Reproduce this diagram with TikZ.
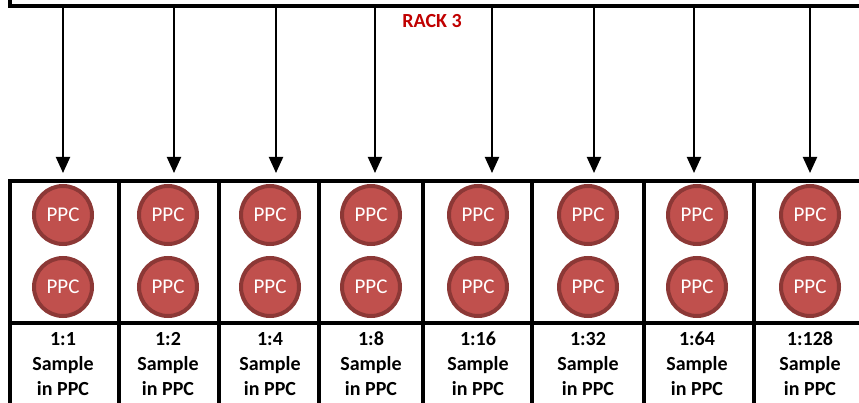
\documentclass[tikz,border=0pt]{standalone}
\usepackage{fontspec}
\setmainfont{Carlito}
\usetikzlibrary{arrows.meta,positioning}
\definecolor{ppcfill}{HTML}{C0504D}
\definecolor{ppcring}{HTML}{8C3836}
\definecolor{rackred}{HTML}{C00000}

\tikzset{
  ppc/.style={circle, fill=ppcfill, draw=ppcring, line width=4pt,
    minimum size=58pt, inner sep=0pt, text=white,
    font=\fontsize{21}{21}\selectfont},
  wall/.style={line width=4pt},
  feed/.style={line width=2pt, -{Triangle[width=14pt,length=16pt]}},
  dilution/.style={align=center, font=\bfseries\fontsize{20}{25}\selectfont}
}

\begin{document}
\begin{tikzpicture}[x=1pt, y=-1pt]
    \useasboundingbox (0,0) rectangle (859,403);
    % Rack outline (corner and top edge)
    \draw[wall] (10,-10) -- (10,6) -- (880,6);
    \node[text=rackred, font=\bfseries\fontsize{20}{20}\selectfont] (rack) at (432,21) {RACK 3};
    % Plate grid
    \draw[wall] (880,181) -- (10,181) -- (10,420);
    \draw[wall] (10,322.5) -- (880,322.5);
    \foreach \gx in {119,219,319,423,532,644,754,862}
        \draw[wall] (\gx,181) -- (\gx,420);
    % Wells, dilutions and feeds from the rack
    \foreach \cx/\ax/\r [count=\i] in {63/63/1, 168/174/2, 270/276/4, 371/375/8,
                                       478/492/16, 588/594/32, 697/694/64, 810/810/128} {
        \node[ppc] (ppcA\i) at (\cx,215) {PPC};
        \node[ppc] (ppcB\i) at (\cx,287) {PPC};
        \node[dilution] (lab\i) at (\cx,364) {1:\r\\Sample\\in PPC};
        \coordinate (top\i) at (\ax,6);
        \coordinate (tip\i) at (\ax,173);
        \draw[feed] (top\i) -- (tip\i);
    }
\end{tikzpicture}
\end{document}
